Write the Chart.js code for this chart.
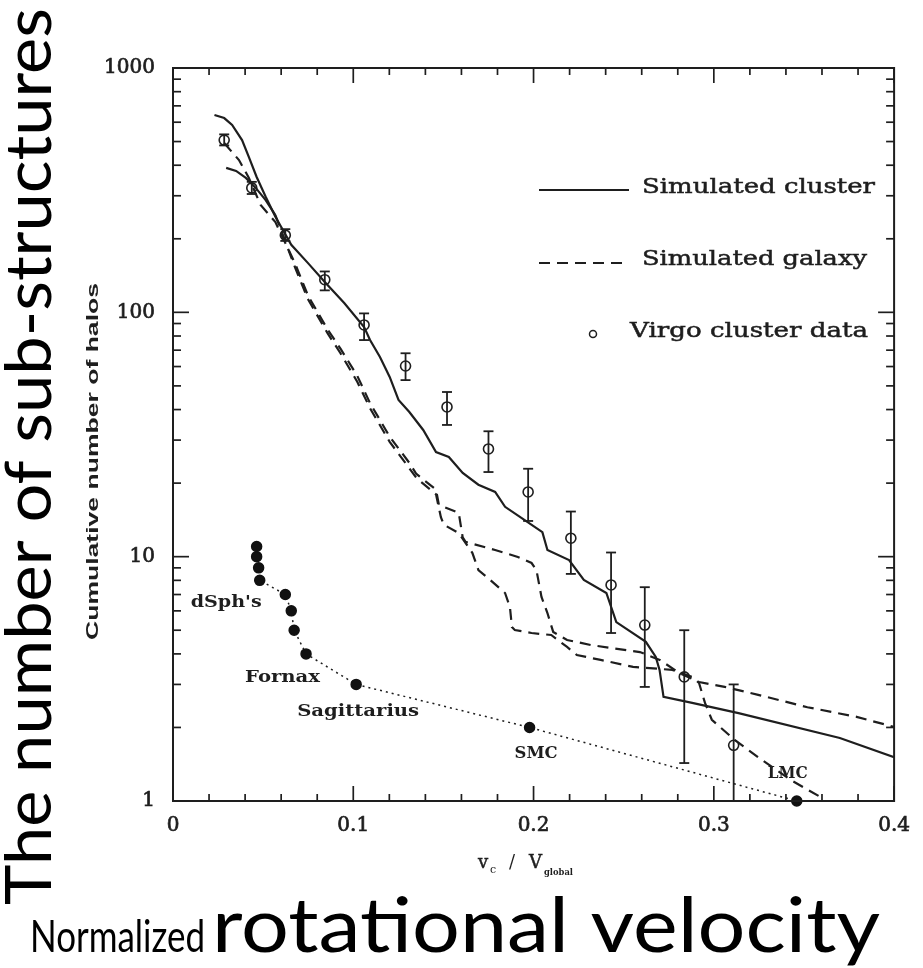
<!DOCTYPE html>
<html><head><meta charset="utf-8">
<script src="https://cdn.jsdelivr.net/npm/chart.js@4.4.0/dist/chart.umd.min.js"></script>
<style>html,body{margin:0;padding:0;background:#fff;}canvas{display:block}</style>
</head><body>
<canvas id="c" width="923" height="968"></canvas>
<script>
// ---------- data ----------
const clusterX = [0.0230,0.0284,0.0328,0.0383,0.0421,0.0464,0.0514,0.0568,0.0656,0.0749,0.0842,0.0951,0.1060,0.1093,0.1148,0.1202,0.1251,0.1311,0.1388,0.1459,0.1530,0.1607,0.1694,0.1787,0.1842,0.1951,0.2049,0.2077,0.2197,0.2279,0.2404,0.2459,0.2623,0.2678,0.2699,0.2721,0.2880,0.3137,0.3699,0.4000];
const clusterY = [642,624,585,507,432,358,297,246,189,159,133,109,87.1,77.1,65.7,54.4,43.8,39.1,33.0,26.8,25.6,22.0,19.7,18.4,16.0,14.1,12.6,10.65,9.69,8.03,7.10,5.40,4.48,3.89,3.44,2.67,2.52,2.29,1.81,1.51];

const galaxy1X = [0.0295,0.0350,0.0404,0.0459,0.0514,0.0568,0.0678,0.0749,0.0858,0.0929,0.1022,0.1093,0.1202,0.1311,0.1350,0.1459,0.1486,0.1503,0.1585,0.1661,0.1694,0.1760,0.1842,0.1869,0.1880,0.1896,0.1989,0.2098,0.2186,0.2240,0.2372,0.2552,0.2770,0.2880,0.2918,0.2951,0.2989,0.3115,0.3246,0.3426,0.3590];
const galaxy1Y = [390,379,355,323,288,250,152,113,82,68,52,40.5,29.5,23.0,21.0,18.0,14.5,13.5,12.5,10.35,8.82,8.03,7.10,6.22,5.15,5.01,4.87,4.78,4.27,3.96,3.78,3.54,3.44,3.22,3.04,2.52,2.15,1.78,1.51,1.22,1.04];

const galaxy2X = [0.0284,0.0366,0.0421,0.0486,0.0568,0.0678,0.0749,0.0858,0.0929,0.1022,0.1093,0.1202,0.1311,0.1350,0.1459,0.1475,0.1585,0.1607,0.1623,0.1787,0.1913,0.1989,0.2016,0.2044,0.2077,0.2109,0.2186,0.2317,0.2426,0.2590,0.2700,0.2809,0.2918,0.3060,0.3246,0.3519,0.3792,0.4000];
const galaxy2Y = [493,420,355,275,234,158,117,85,71,55,42.5,31,24.2,21.8,18.8,16.3,15.1,12.0,11.5,10.65,9.97,9.42,8.82,6.84,5.88,4.92,4.56,4.35,4.23,4.07,3.78,3.34,3.07,2.93,2.72,2.42,2.21,2.01];

const virgoX  = [0.0284,0.0437,0.0623,0.0842,0.1060,0.1290,0.1520,0.1750,0.1970,0.2207,0.2430,0.2617,0.2836,0.3110];
const virgoY  = [507,323,207,136,88.8,60.3,41.0,27.6,18.4,11.9,7.66,5.25,3.22,1.69];
const virgoHi = [535,342,219,147,99,68,47.2,32.6,22.9,15.3,10.4,7.5,5.0,3.0];
const virgoLo = [482,305,196,123,77,52.8,34.6,22.2,14.0,8.5,4.87,2.93,1.43,1.0];

const dwarfX = [0.0464,0.0464,0.0475,0.0481,0.0623,0.0656,0.0672,0.0738,0.1016,0.1978,0.3460];
const dwarfY = [11,10,9,8,7,6,5,4,3,2,1];
const dwarfNames = ["dSph's","Fornax","Sagittarius","SMC","LMC"];
const dwarfNameIndex = [3,7,8,9,10];

const xTickValues = [0,0.1,0.2,0.3,0.4];
const xTickLabels = ['0','0.1','0.2','0.3','0.4'];
const yTickValues = [1,10,100,1000];
const yTickLabels = ['1','10','100','1000'];

const legendLabels = ['Simulated cluster','Simulated galaxy','Virgo cluster data'];

// ---------- drawing ----------
const INK = '#1e1e1e';
const pts = (xs, ys) => xs.map((x, i) => ({x, y: ys[i]}));

function fitText(ctx, text, x, y, w, font, rot, stroke) {
  ctx.save();
  ctx.font = font;
  const m = ctx.measureText(text).width;
  ctx.translate(x, y);
  if (rot) ctx.rotate(rot);
  ctx.scale(w / m, 1);
  ctx.textAlign = 'left';
  ctx.textBaseline = 'alphabetic';
  ctx.fillText(text, 0, 0);
  if (stroke) { ctx.lineWidth = stroke; ctx.strokeText(text, 0, 0); }
  ctx.restore();
}
function seg(ctx, x1, y1, x2, y2) { ctx.beginPath(); ctx.moveTo(x1, y1); ctx.lineTo(x2, y2); ctx.stroke(); }

const decor = {
  id: 'decor',
  afterDatasetsDraw(chart) {
    const {ctx, scales: {x: xs, y: ys}} = chart;
    ctx.save();
    ctx.strokeStyle = INK; ctx.lineWidth = 1.8;
    virgoX.forEach((v, i) => {
      const px = xs.getPixelForValue(v);
      const hi = ys.getPixelForValue(virgoHi[i]);
      const lo = ys.getPixelForValue(virgoLo[i]);
      seg(ctx, px, hi, px, lo);
      seg(ctx, px - 5, hi, px + 5, hi);
      seg(ctx, px - 5, lo, px + 5, lo);
    });
    ctx.restore();
  },
  afterDraw(chart) {
    const {ctx, chartArea: a, scales: {x: xs, y: ys}} = chart;
    ctx.save();
    ctx.strokeStyle = INK; ctx.fillStyle = INK;
    ctx.lineWidth = 2;
    ctx.strokeRect(a.left, a.top, a.right - a.left, a.bottom - a.top);
    ctx.lineWidth = 1.7;
    for (let k = 0; k < 3; k++) for (let m = 1; m < 10; m++) {
      const p = ys.getPixelForValue(m * Math.pow(10, k));
      const L = m === 1 ? 16 : 8;
      seg(ctx, a.left, p, a.left + L, p);
      seg(ctx, a.right, p, a.right - L, p);
    }
    for (let i = 0; i <= 20; i++) {
      const p = xs.getPixelForValue(i * 0.02);
      const L = i % 5 === 0 ? 15 : 7;
      seg(ctx, p, a.bottom, p, a.bottom - L);
      seg(ctx, p, a.top, p, a.top + L);
    }
    // legend
    const ds = chart.data.datasets;
    ctx.lineWidth = 2;
    ctx.setLineDash([]); seg(ctx, 539, 190, 629, 190);
    ctx.setLineDash(ds[1].borderDash); seg(ctx, 539, 263, 629, 263);
    ctx.setLineDash([]);
    ctx.lineWidth = 1.5;
    ctx.beginPath(); ctx.arc(593, 334, 3.5, 0, Math.PI * 2); ctx.stroke();
    const lf = '21px "DejaVu Serif"';
    fitText(ctx, legendLabels[0], 642, 193, 233, lf, 0, 0.5);
    fitText(ctx, legendLabels[1], 642, 265, 225, lf, 0, 0.5);
    fitText(ctx, legendLabels[2], 630, 337, 238, lf, 0, 0.5);
    // satellite names
    const nf = 'bold 17px "DejaVu Serif"';
    const off = [[-69, 27, 71], [-61, 28, 75], [-59, 32, 122], [-15, 31, 43], [-29, -23, 40]];
    dwarfNames.forEach((n, j) => {
      const i = dwarfNameIndex[j];
      const px = xs.getPixelForValue(dwarfX[i]), py = ys.getPixelForValue(dwarfY[i]);
      fitText(ctx, n, px + off[j][0], py + off[j][1], off[j][2], nf);
    });
    // axis titles of the original figure
    ctx.lineWidth = 0.5;
    ctx.font = '18px "DejaVu Serif"';
    ctx.fillText('v', 478, 868); ctx.strokeText('v', 478, 868);
    ctx.font = '11px "DejaVu Serif"'; ctx.fillText('c', 490, 873);
    ctx.font = '18px "DejaVu Serif"'; ctx.fillText('/', 509, 868); ctx.fillText('V', 529, 868); ctx.strokeText('V', 529, 868);
    fitText(ctx, 'global', 544, 875, 29, 'bold 10px "DejaVu Serif"');
    fitText(ctx, 'Cumulative number of halos', 98, 640, 357, 'bold 16px "Liberation Sans"', -Math.PI / 2);
    // slide annotations
    ctx.fillStyle = '#000';
    fitText(ctx, 'The number of sub-structures', 51, 905, 897, '63px Lato', -Math.PI / 2);
    fitText(ctx, 'Normalized', 30, 952, 175, '44px Lato');
    fitText(ctx, 'rotational velocity', 212, 952, 668, '76px Lato');
    ctx.restore();
  }
};

const dashG = [11, 7];
const tickFont = {family: 'DejaVu Serif', size: 20};
new Chart(document.getElementById('c'), {
  type: 'scatter',
  data: {
    datasets: [
      {label: 'Simulated cluster', data: pts(clusterX, clusterY), showLine: true, borderColor: INK, borderWidth: 2.2, pointRadius: 0, tension: 0},
      {label: 'Simulated galaxy', data: pts(galaxy1X, galaxy1Y), showLine: true, borderColor: INK, borderWidth: 2.2, borderDash: dashG, pointRadius: 0, tension: 0,
        segment: {borderDash: c => (c.p1.parsed.x <= 0.057 ? [] : undefined)}},
      {label: 'Simulated galaxy (2)', data: pts(galaxy2X, galaxy2Y), showLine: true, borderColor: INK, borderWidth: 2.2, borderDash: dashG, pointRadius: 0, tension: 0},
      {label: 'Virgo cluster data', data: pts(virgoX, virgoY), showLine: false, pointStyle: 'circle', pointRadius: 5, borderColor: INK, pointBorderWidth: 1.6, backgroundColor: 'rgba(255,255,255,0)'},
      {label: 'Milky Way satellites', data: pts(dwarfX, dwarfY), showLine: true, borderColor: INK, borderWidth: 1.5, borderDash: [2, 4], pointRadius: 5, pointBackgroundColor: '#111', pointBorderColor: '#111', clip: false, tension: 0}
    ]
  },
  options: {
    responsive: false, animation: false, devicePixelRatio: 1,
    layout: {padding: {left: 0, right: 18, top: 68, bottom: 0}},
    plugins: {legend: {display: false}, tooltip: {enabled: false}},
    scales: {
      x: {
        type: 'linear', min: 0, max: 0.4,
        afterBuildTicks: s => { s.ticks = xTickValues.map(v => ({value: v})); },
        afterFit: s => { s.height = 167; },
        ticks: {callback: (v, i) => xTickLabels[i], font: tickFont, color: INK, textStrokeColor: INK, textStrokeWidth: 0.7, padding: 13, maxRotation: 0, autoSkip: false},
        grid: {display: false, drawTicks: false},
        border: {display: true, color: INK, width: 2}
      },
      y: {
        type: 'logarithmic', min: 1, max: 1000,
        afterBuildTicks: s => { s.ticks = yTickValues.map(v => ({value: v})); },
        afterFit: s => { s.width = 173; },
        ticks: {callback: (v, i) => yTickLabels[i], font: tickFont, color: INK, textStrokeColor: INK, textStrokeWidth: 0.7, padding: 18, autoSkip: false},
        grid: {display: false, drawTicks: false},
        border: {display: true, color: INK, width: 2}
      }
    }
  },
  plugins: [decor]
});
</script>
</body></html>
